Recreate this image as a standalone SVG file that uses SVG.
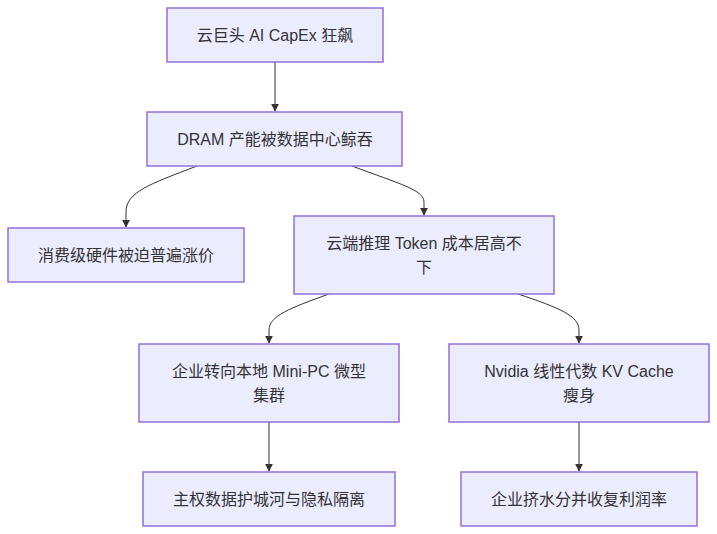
<svg xmlns="http://www.w3.org/2000/svg" width="717" height="534" viewBox="0 0 717 534">
<style>
.node rect{fill:#ECECFF;stroke:#9370DB;stroke-width:1.5}
.node text{font-family:"Liberation Sans","Noto Sans CJK SC",Arial,sans-serif;font-size:16px;fill:#333;text-anchor:middle;dominant-baseline:central}
.edge{fill:none;stroke:#333;stroke-width:1;marker-end:url(#arr)}
</style>
<defs>
<marker id="arr" viewBox="0 0 10 10" refX="9" refY="5" markerWidth="8" markerHeight="8" markerUnits="userSpaceOnUse" orient="auto">
<path d="M0,0 L10,5 L0,10 z" fill="#333"/>
</marker>
</defs>
<rect width="717" height="534" fill="#fff"/>
<g id="edges">
<path class="edge" d="M275,62 L275,111"/>
<path class="edge" d="M197,166 C150,184 126,192 126,212 L126,227"/>
<path class="edge" d="M352,166 C400,184 424,190 424,202 L424,215"/>
<path class="edge" d="M329,294 C290,308 269,316 269,330 L269,343"/>
<path class="edge" d="M518,294 C560,308 579,316 579,330 L579,343"/>
<path class="edge" d="M269,422 L269,471"/>
<path class="edge" d="M579,422 L579,471"/>
</g>
<g id="A" class="node"><rect x="167" y="8" width="216" height="54"/><text x="275" y="35">云巨头 AI CapEx 狂飙</text></g>
<g id="B" class="node"><rect x="147" y="112" width="255" height="54"/><text x="275" y="139">DRAM 产能被数据中心鲸吞</text></g>
<g id="C" class="node"><rect x="8" y="228" width="236" height="54"/><text x="126" y="255">消费级硬件被迫普遍涨价</text></g>
<g id="D" class="node"><rect x="294" y="216" width="260" height="78"/><text x="424" y="243">云端推理 Token 成本居高不</text><text x="424" y="267">下</text></g>
<g id="E" class="node"><rect x="139" y="344" width="260" height="78"/><text x="269" y="371">企业转向本地 Mini-PC 微型</text><text x="269" y="395">集群</text></g>
<g id="F" class="node"><rect x="449" y="344" width="260" height="78"/><text x="579" y="371">Nvidia 线性代数 KV Cache</text><text x="579" y="395">瘦身</text></g>
<g id="G" class="node"><rect x="143" y="472" width="252" height="54"/><text x="269" y="499">主权数据护城河与隐私隔离</text></g>
<g id="H" class="node"><rect x="461" y="472" width="236" height="54"/><text x="579" y="499">企业挤水分并收复利润率</text></g>
</svg>
